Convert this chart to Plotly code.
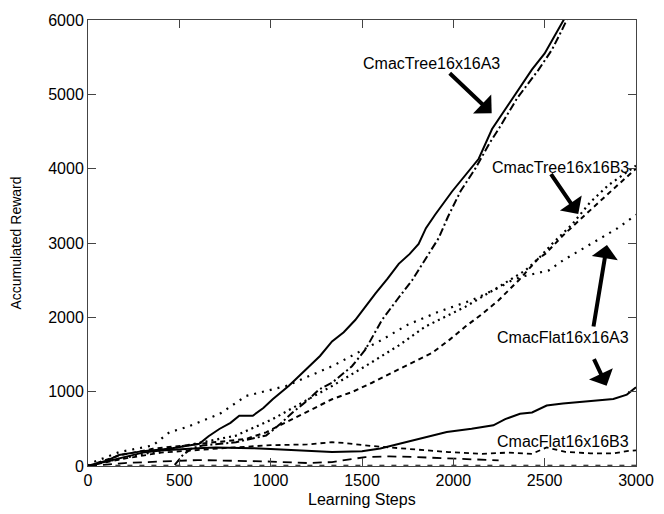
import plotly.graph_objects as go

# ---------------- data ----------------
tree_a3_solid_x = [0, 100, 170, 300, 445, 520, 609, 660, 719, 780, 828, 902, 960, 1011, 1100, 1193, 1270,
                   1336, 1400, 1463, 1520, 1573, 1640, 1701, 1760, 1810, 1850, 1900, 1993, 2060, 2139, 2212,
                   2300, 2350, 2430, 2500, 2560, 2604, 2650]
tree_a3_solid_y = [0, 70, 147, 200, 231, 260, 298, 400, 498, 580, 676, 676, 780, 898, 1080, 1298, 1480,
                   1676, 1800, 1964, 2150, 2320, 2520, 2720, 2850, 2987, 3200, 3380, 3693, 3900, 4133, 4533,
                   4850, 5040, 5333, 5550, 5800, 6000, 6200]

tree_a3_dashdot_x = [0, 300, 420, 470, 520, 570, 628, 700, 810, 900, 975, 1050, 1120, 1200, 1266, 1336,
                     1400, 1445, 1518, 1560, 1609, 1690, 1774, 1865, 1920, 1970, 2040, 2120, 2200, 2248,
                     2350, 2467, 2540, 2595, 2640]
tree_a3_dashdot_y = [-1500, -800, -250, 0, 150, 240, 276, 290, 320, 370, 409, 560, 720, 880, 1031, 1120,
                     1250, 1342, 1564, 1750, 1964, 2230, 2498, 2853, 3067, 3350, 3700, 4000, 4350, 4533,
                     4950, 5333, 5600, 5867, 6100]

tree_b3_dash_x = [0, 171, 354, 536, 719, 865, 975, 1120, 1200, 1336, 1450, 1555, 1700, 1883, 1980, 2066,
                  2160, 2248, 2358, 2465, 2503, 2600, 2700, 2800, 2900, 3000]
tree_b3_dash_y = [0, 142, 231, 276, 320, 364, 453, 631, 720, 898, 1000, 1120, 1300, 1520, 1700, 1876,
                  2050, 2231, 2498, 2791, 2853, 3100, 3330, 3560, 3780, 4000]

tree_b3_dot_x = [0, 44, 263, 445, 628, 810, 1011, 1175, 1336, 1518, 1700, 1847, 2066, 2248, 2394, 2470,
                 2540, 2650, 2750, 2850, 2950, 3000]
tree_b3_dot_y = [0, 31, 142, 231, 320, 409, 631, 853, 1076, 1342, 1620, 1876, 2142, 2409, 2631, 2800,
                 2987, 3250, 3550, 3780, 3950, 4040]

flat_a3_dot_x = [0, 7, 171, 354, 445, 536, 719, 865, 1084, 1336, 1609, 1750, 1920, 2102, 2250, 2321,
                 2374, 2450, 2522, 2602, 2693, 2800, 2900, 3000]
flat_a3_dot_y = [0, 31, 187, 276, 453, 520, 698, 942, 1076, 1342, 1698, 1900, 2076, 2231, 2400, 2498,
                 2547, 2590, 2631, 2769, 2898, 3050, 3200, 3380]

flat_a3_solid_x = [0, 100, 200, 300, 400, 500, 600, 700, 800, 900, 1000, 1100, 1200, 1336, 1500, 1600,
                   1672, 1781, 1964, 2100, 2219, 2284, 2365, 2431, 2511, 2600, 2693, 2800, 2876, 2950, 3000]
flat_a3_solid_y = [0, 60, 130, 180, 210, 230, 240, 250, 250, 240, 230, 220, 200, 187, 200, 236,
                   280, 347, 458, 500, 547, 631, 702, 720, 813, 840, 858, 880, 902, 960, 1060]

flat_b3_dash_x = [0, 200, 400, 600, 800, 1000, 1200, 1336, 1400, 1550, 1700, 1850, 1974, 2157, 2300,
                  2431, 2511, 2613, 2750, 2876, 2950, 3000]
flat_b3_dash_y = [0, 100, 180, 220, 250, 280, 290, 320, 310, 270, 240, 220, 187, 164, 180,
                  164, 250, 190, 170, 169, 200, 210]

flat_b3_longdash_x = [0, 200, 400, 600, 800, 1000, 1200, 1336, 1518, 1650, 1792, 2029, 2248]
flat_b3_longdash_y = [0, 40, 60, 80, 70, 60, 40, 53, 120, 130, 120, 98, 76]

zero_x = [150, 3000]
zero_y = [10, 10]

x_ticks = [0, 500, 1000, 1500, 2000, 2500, 3000]
y_ticks = [0, 1000, 2000, 3000, 4000, 5000, 6000]

# ---------------- figure ----------------
FONT = "Liberation Sans, Arial, sans-serif"
fig = go.Figure()

def add(x, y, dash, width=2.0):
    fig.add_trace(go.Scatter(x=x, y=y, mode="lines", showlegend=False, hoverinfo="skip",
                             line=dict(color="black", width=width, dash=dash)))

add(zero_x, zero_y, "5px,7px", 1.2)
add(flat_b3_longdash_x, flat_b3_longdash_y, "9px,6px", 1.8)
add(flat_b3_dash_x, flat_b3_dash_y, "5px,4px", 1.8)
add(flat_a3_solid_x, flat_a3_solid_y, "solid", 2.0)
add(flat_a3_dot_x, flat_a3_dot_y, "2px,6px", 2.2)
add(tree_b3_dot_x, tree_b3_dot_y, "2px,4px", 2.2)
add(tree_b3_dash_x, tree_b3_dash_y, "5px,4px", 2.0)
add(tree_a3_dashdot_x, tree_a3_dashdot_y, "8px,3px,2px,3px", 2.0)
add(tree_a3_solid_x, tree_a3_solid_y, "solid", 2.0)

labels = [
    ("CmacTree16x16A3", 1878, 5420),
    ("CmacTree16x16B3", 2584, 4013),
    ("CmacFlat16x16A3", 2602, 1724),
    ("CmacFlat16x16B3", 2602, 324),
]
for t, lx, ly in labels:
    fig.add_annotation(x=lx, y=ly, text=t, showarrow=False,
                       font=dict(family=FONT, size=16, color="black"),
                       bgcolor="rgba(255,255,255,0)")

arrows = [  # (tip_x, tip_y, tail_x, tail_y)
    (2210, 4747, 1972, 5303),
    (2684, 3391, 2529, 3947),
    (2841, 2973, 2766, 1857),
    (2839, 1080, 2766, 1457),
]
for tx, ty, sx, sy in arrows:
    fig.add_annotation(x=tx, y=ty, ax=sx, ay=sy, axref="x", ayref="y", xref="x", yref="y",
                       text="", showarrow=True, arrowhead=1, arrowsize=1.1, arrowwidth=4,
                       arrowcolor="black", standoff=0, startstandoff=0)

# x-axis title as a paper-positioned annotation (keeps plot area fixed)
fig.add_annotation(x=0.5, y=-34 / 450, xref="paper", yref="paper", text="Learning Steps",
                   showarrow=False, xanchor="center", yanchor="middle",
                   font=dict(family=FONT, size=16, color="black"))

axis_common = dict(showline=True, linecolor="#444", linewidth=1, mirror="allticks",
                   ticks="inside", ticklen=8, tickcolor="#444", tickwidth=1,
                   showgrid=False, zeroline=False,
                   tickfont=dict(family=FONT, size=16, color="black"))

fig.update_xaxes(range=[0, 3000], tickvals=x_ticks, ticktext=[str(v) for v in x_ticks],
                 automargin=False, **axis_common)
fig.update_yaxes(range=[0, 6000], tickvals=y_ticks, ticktext=[str(v) for v in y_ticks],
                 title=dict(text="Accumulated Reward", font=dict(family=FONT, size=14, color="black"), standoff=23),
                 **axis_common)

fig.update_layout(width=664, height=514, margin=dict(l=88, r=28, t=16, b=48),
                  plot_bgcolor="white", paper_bgcolor="white")

fig.write_html("out.html")
